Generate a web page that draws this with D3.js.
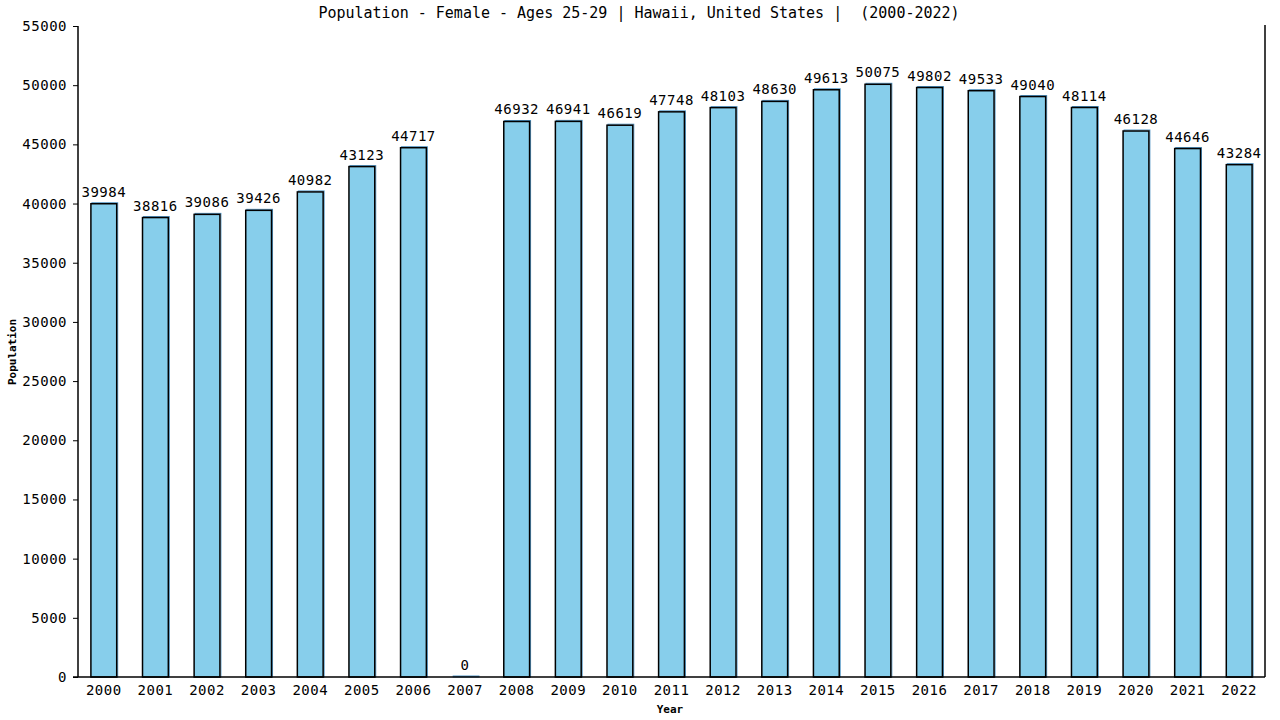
<!DOCTYPE html>
<html>
<head>
<meta charset="utf-8">
<script src="https://cdn.jsdelivr.net/npm/d3@7"></script>
<style>
  body { margin: 0; background: #fff; }
  svg { display: block; }
  text { font-family: "DejaVu Sans Mono", monospace; fill: #000; }
</style>
</head>
<body>
<div id="chart"></div>
<script>
// data
const years = ['2000','2001','2002','2003','2004','2005','2006','2007','2008','2009','2010','2011',
               '2012','2013','2014','2015','2016','2017','2018','2019','2020','2021','2022'];
const population = [39984, 38816, 39086, 39426, 40982, 43123, 44717, 0, 46932, 46941, 46619, 47748,
                    48103, 48630, 49613, 50075, 49802, 49533, 49040, 48114, 46128, 44646, 43284];
const yTicks = [0, 5000, 10000, 15000, 20000, 25000, 30000, 35000, 40000, 45000, 50000, 55000];
const title = 'Population - Female - Ages 25-29 | Hawaii, United States |  (2000-2022)';

const width = 1280, height = 720;
const plotLeft = 78, plotRight = 1265, plotTop = 26, plotBottom = 677;

const svg = d3.select('#chart').append('svg')
    .attr('width', width)
    .attr('height', height);

const x = d3.scaleBand()
    .domain(years)
    .range([plotLeft, plotRight])
    .paddingInner(0.5)
    .paddingOuter(0.25);

const y = d3.scaleLinear()
    .domain([0, 55000])
    .range([plotBottom, plotTop]);

// title (keep the double space)
svg.append('text')
    .attr('x', 639)
    .attr('y', 18)
    .attr('text-anchor', 'middle')
    .attr('xml:space', 'preserve')
    .style('white-space', 'pre')
    .style('font-size', '15px')
    .text(title);

// bars: blue shadow first, then the black outlined bar
const bars = svg.append('g');
bars.selectAll('rect.shadow')
    .data(population)
    .enter()
    .append('rect')
    .attr('class', 'shadow')
    .attr('x', (d, i) => x(years[i]) + 1)
    .attr('y', d => y(d) - 1)
    .attr('width', x.bandwidth())
    .attr('height', d => plotBottom - y(d) + 1)
    .style('fill', 'none')
    .style('stroke', '#4f94c4')
    .style('stroke-width', 1);

bars.selectAll('rect.bar')
    .data(population)
    .enter()
    .append('rect')
    .attr('class', 'bar')
    .attr('x', (d, i) => x(years[i]))
    .attr('y', d => y(d))
    .attr('width', x.bandwidth())
    .attr('height', d => plotBottom - y(d))
    .style('fill', '#87ceeb')
    .style('stroke', d => d === 0 ? 'none' : '#000')
    .style('stroke-width', 1.5);

// value labels
svg.append('g').selectAll('text')
    .data(population)
    .enter()
    .append('text')
    .attr('x', (d, i) => x(years[i]) + x.bandwidth() / 2)
    .attr('y', d => y(d) - 7)
    .attr('text-anchor', 'middle')
    .style('font-size', '14px')
    .style('letter-spacing', '0.5px')
    .text(d => d);

// y axis
const yAxis = svg.append('g')
    .attr('transform', `translate(${plotLeft},0)`)
    .call(d3.axisLeft(y).tickValues(yTicks).tickSize(5).tickFormat(d3.format('d')));
yAxis.select('.domain').attr('d', `M0,${plotTop}V${plotBottom}`).style('stroke', '#000').style('stroke-width', 1.5);
yAxis.selectAll('.tick line').style('stroke', '#000');
yAxis.selectAll('.tick text')
    .attr('x', -11)
    .style('font-size', '14px')
    .style('letter-spacing', '0.5px')
    .style('font-family', '"DejaVu Sans Mono", monospace');

// x axis
const xAxis = svg.append('g')
    .attr('transform', `translate(0,${plotBottom})`)
    .call(d3.axisBottom(x).tickSize(0).tickPadding(8));
xAxis.select('.domain').attr('d', `M${plotLeft - 5},0H${plotRight}`).style('stroke', '#000').style('stroke-width', 1.5);
xAxis.selectAll('.tick text')
    .style('font-size', '14px')
    .style('letter-spacing', '0.5px')
    .style('font-family', '"DejaVu Sans Mono", monospace');

// right border
svg.append('line')
    .attr('x1', plotRight).attr('x2', plotRight)
    .attr('y1', plotTop - 1).attr('y2', plotBottom)
    .style('stroke', '#000')
    .style('stroke-width', 1.5);

// axis titles
svg.append('text')
    .attr('x', 670)
    .attr('y', 713)
    .attr('text-anchor', 'middle')
    .style('font-size', '11px')
    .style('font-weight', 'bold')
    .text('Year');

svg.append('text')
    .attr('transform', 'translate(16,352) rotate(-90)')
    .attr('text-anchor', 'middle')
    .style('font-size', '11px')
    .style('font-weight', 'bold')
    .text('Population');
</script>
</body>
</html>
